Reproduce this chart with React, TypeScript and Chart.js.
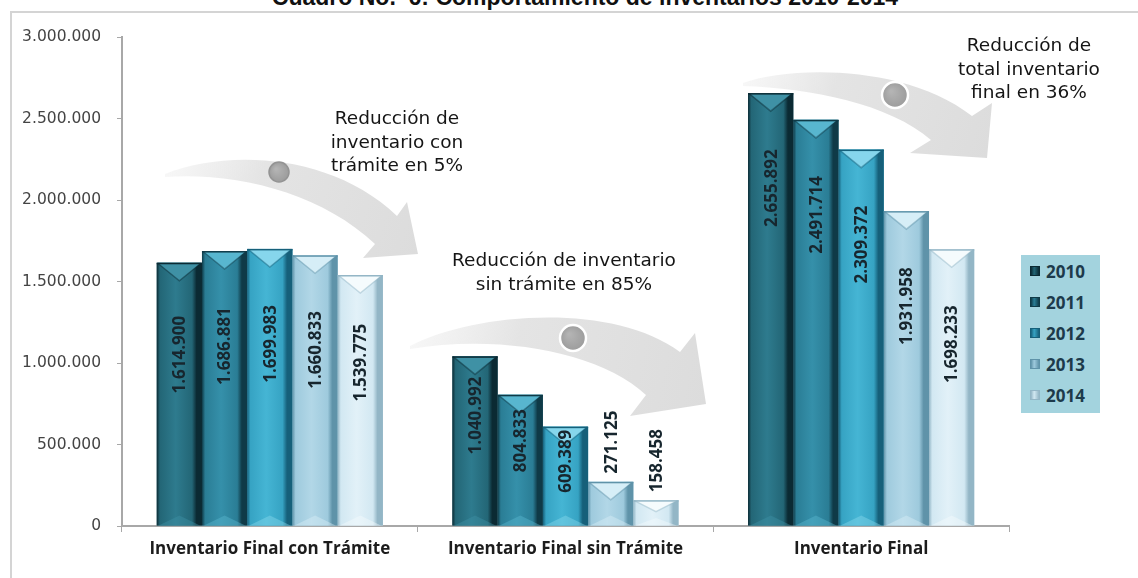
import React, { useEffect, useRef } from 'react';
import { Chart, registerables } from 'chart.js';

Chart.register(...registerables);

// ---------- data ----------
const categories = ['Inventario Final con Trámite', 'Inventario Final sin Trámite', 'Inventario Final'];
const years = ['2010', '2011', '2012', '2013', '2014'];
const values2010 = [1614900, 1040992, 2655892];
const values2011 = [1686881, 804833, 2491714];
const values2012 = [1699983, 609389, 2309372];
const values2013 = [1660833, 271125, 1931958];
const values2014 = [1539775, 158458, 1698233];
const seriesValues = [values2010, values2011, values2012, values2013, values2014];
const yTickValues = [0, 500000, 1000000, 1500000, 2000000, 2500000, 3000000];

const titleText = 'Cuadro No.  6: Comportamiento de inventarios 2010-2014';
const note1Lines = ['Reducción de', 'inventario con', 'trámite en 5%'];
const note2Lines = ['Reducción de inventario', 'sin trámite en 85%'];
const note3Lines = ['Reducción de', 'total inventario', 'final en 36%'];

// ---------- styles ----------
const palette = [
  { edge: '#0b2a33', face: '#236676', mid: '#2e7b8e', bevel: '#3f91a5' },
  { edge: '#0f3a47', face: '#2a7d95', mid: '#3590aa', bevel: '#58b6cf' },
  { edge: '#16607a', face: '#36a3c3', mid: '#45b5d4', bevel: '#86d6ec' },
  { edge: '#5f93a9', face: '#9ecadd', mid: '#b2d7e7', bevel: '#d6eef7' },
  { edge: '#93b6c6', face: '#d2e8f2', mid: '#e2f1f8', bevel: '#f5fbfd' },
];

const LABEL_FONT = 'bold 17px "Open Sans"';

// reference frame for decorative arrows (chart-area relative)
const REF = { left: 122, top: 37, w: 887, h: 489 };
const arrowShapes = [
  {
    tail: [165, 174], uc1: [225, 150], uc2: [330, 152], neckU: [397, 216],
    barb1: [407, 202], tip: [418, 254], barb2: [363, 258], neckL: [375, 244],
    lc1: [320, 192], lc2: [235, 172], tailL: [165, 177],
    circle: [279, 172], r: 10, ring: '#939393', ringW: 1.5,
  },
  {
    tail: [410, 346], uc1: [470, 314], uc2: [610, 300], neckU: [680, 352],
    barb1: [695, 333], tip: [706, 404], barb2: [630, 416], neckL: [646, 395],
    lc1: [600, 352], lc2: [500, 334], tailL: [410, 349],
    circle: [573, 338], r: 13, ring: '#ffffff', ringW: 2.5,
  },
  {
    tail: [743, 83], uc1: [790, 66], uc2: [905, 64], neckU: [972, 116],
    barb1: [992, 103], tip: [987, 158], barb2: [910, 153], neckL: [931, 140],
    lc1: [890, 104], lc2: [810, 88], tailL: [743, 86],
    circle: [895, 95], r: 13, ring: '#ffffff', ringW: 2.5,
  },
];

const fmt = (v: number) => String(Math.round(v)).replace(/\B(?=(\d{3})+(?!\d))/g, '.');

const arrowPlugin = {
  id: 'arrowDecor',
  beforeDatasetsDraw(chart: any) {
    const { ctx, chartArea: ca } = chart;
    const m = (p: number[]) => [
      ca.left + ((p[0] - REF.left) / REF.w) * ca.width,
      ca.top + ((p[1] - REF.top) / REF.h) * ca.height,
    ];
    ctx.save();
    arrowShapes.forEach((a) => {
      const t = m(a.tail), u1 = m(a.uc1), u2 = m(a.uc2), nu = m(a.neckU);
      const b1 = m(a.barb1), tp = m(a.tip), b2 = m(a.barb2), nl = m(a.neckL);
      const l1 = m(a.lc1), l2 = m(a.lc2), tl = m(a.tailL);
      const g = ctx.createLinearGradient(t[0], t[1], tp[0], tp[1]);
      g.addColorStop(0, 'rgba(232,232,232,0.35)');
      g.addColorStop(0.35, '#e4e4e4');
      g.addColorStop(1, '#dcdcdc');
      ctx.beginPath();
      ctx.moveTo(t[0], t[1]);
      ctx.bezierCurveTo(u1[0], u1[1], u2[0], u2[1], nu[0], nu[1]);
      ctx.lineTo(b1[0], b1[1]);
      ctx.lineTo(tp[0], tp[1]);
      ctx.lineTo(b2[0], b2[1]);
      ctx.lineTo(nl[0], nl[1]);
      ctx.bezierCurveTo(l1[0], l1[1], l2[0], l2[1], tl[0], tl[1]);
      ctx.closePath();
      ctx.fillStyle = g;
      ctx.fill();
      const c = m(a.circle);
      const rg = ctx.createRadialGradient(c[0] - a.r * 0.3, c[1] - a.r * 0.3, 1, c[0], c[1], a.r);
      rg.addColorStop(0, '#b4b4b4');
      rg.addColorStop(1, '#9c9c9c');
      ctx.beginPath();
      ctx.arc(c[0], c[1], a.r, 0, Math.PI * 2);
      ctx.fillStyle = rg;
      ctx.fill();
      ctx.lineWidth = a.ringW;
      ctx.strokeStyle = a.ring;
      ctx.stroke();
    });
    ctx.restore();
  },
};

const barDecorPlugin = {
  id: 'barDecor',
  afterDatasetsDraw(chart: any) {
    const { ctx } = chart;
    ctx.save();
    // shading & bevels
    chart.data.datasets.forEach((_ds: any, di: number) => {
      const meta = chart.getDatasetMeta(di);
      const pal = palette[di];
      meta.data.forEach((el: any) => {
        const { x, y, base, width } = el.getProps(['x', 'y', 'base', 'width'], true);
        const left = x - width / 2;
        const right = x + width / 2;
        const top = Math.min(y, base);
        const bottom = Math.max(y, base);
        const h = bottom - top;
        const g = ctx.createLinearGradient(left, 0, right, 0);
        g.addColorStop(0, pal.edge);
        g.addColorStop(0.07, pal.face);
        g.addColorStop(0.42, pal.mid);
        g.addColorStop(0.78, pal.face);
        g.addColorStop(0.88, pal.edge);
        g.addColorStop(1, pal.edge);
        ctx.fillStyle = g;
        ctx.fillRect(left, top, width, h);
        const bh = Math.min(width * 0.4, h * 0.45);
        // top bevel (V)
        ctx.beginPath();
        ctx.moveTo(left + 1, top);
        ctx.lineTo(right - 1, top);
        ctx.lineTo(x, top + bh);
        ctx.closePath();
        ctx.fillStyle = pal.bevel;
        ctx.fill();
        ctx.beginPath();
        ctx.moveTo(left + 1, top + 0.5);
        ctx.lineTo(x, top + bh);
        ctx.lineTo(right - 1, top + 0.5);
        ctx.strokeStyle = pal.edge;
        ctx.globalAlpha = 0.45;
        ctx.lineWidth = 1.5;
        ctx.stroke();
        ctx.globalAlpha = 1;
        ctx.fillStyle = pal.edge;
        ctx.fillRect(left, top, width, 1.5);
        // bottom bevel
        const bb = Math.min(width * 0.22, h * 0.3);
        ctx.beginPath();
        ctx.moveTo(left + 2, bottom);
        ctx.lineTo(x, bottom - bb);
        ctx.lineTo(right - 2, bottom);
        ctx.closePath();
        ctx.fillStyle = pal.bevel;
        ctx.globalAlpha = 0.45;
        ctx.fill();
        ctx.globalAlpha = 1;
      });
    });
    // value labels
    ctx.font = LABEL_FONT;
    ctx.fillStyle = '#17262e';
    ctx.textAlign = 'center';
    ctx.textBaseline = 'middle';
    chart.data.datasets.forEach((ds: any, di: number) => {
      const meta = chart.getDatasetMeta(di);
      meta.data.forEach((el: any, i: number) => {
        const { x, y, base } = el.getProps(['x', 'y', 'base'], true);
        const top = Math.min(y, base);
        const h = Math.abs(base - y);
        const txt = fmt(ds.data[i]);
        const L = ctx.measureText(txt).width;
        let cy: number;
        if (h >= L + 25) {
          const off = Math.min(95, Math.max(h * 0.35, L / 2 + 3));
          cy = top + off;
        } else {
          cy = top - 8 - L / 2;
        }
        ctx.save();
        ctx.translate(x + 1, cy);
        ctx.rotate(-Math.PI / 2);
        ctx.fillText(txt, 0, 0);
        ctx.restore();
      });
    });
    ctx.restore();
  },
};

function Note({ lines, cx, cy, lh }: { lines: string[]; cx: number; cy: number; lh: number }) {
  return (
    <div
      style={{
        position: 'absolute',
        left: cx - 160,
        width: 320,
        top: cy - lh / 2,
        textAlign: 'center',
        fontFamily: '"DejaVu Sans", sans-serif',
        fontSize: 18.5,
        lineHeight: `${lh}px`,
        color: '#151515',
        whiteSpace: 'nowrap',
      }}
    >
      {lines.map((l, i) => (
        <div key={i}>{l}</div>
      ))}
    </div>
  );
}

export default function App() {
  const ref = useRef<HTMLCanvasElement | null>(null);

  useEffect(() => {
    if (!ref.current) return;
    const chart = new Chart(ref.current, {
      type: 'bar',
      data: {
        labels: categories,
        datasets: years.map((yr, i) => ({
          label: yr,
          data: seriesValues[i],
          backgroundColor: palette[i].face,
          borderWidth: 0,
          categoryPercentage: 0.765,
          barPercentage: 1,
        })),
      },
      options: {
        responsive: false,
        animation: false,
        devicePixelRatio: 1,
        layout: { padding: { left: 0, top: 37, right: 129, bottom: 0 } },
        plugins: {
          legend: { display: false },
          tooltip: { enabled: false },
          title: { display: false },
        },
        scales: {
          x: {
            grid: { drawOnChartArea: false, drawTicks: true, tickLength: 6, color: '#a8a8a8', offset: true },
            border: { color: '#a8a8a8', width: 2 },
            ticks: {
              font: { family: '"Open Sans"', weight: 'bold', size: 17 },
              color: '#1c1c1c',
              padding: 7,
              maxRotation: 0,
              autoSkip: false,
            },
            afterFit: (s: any) => {
              s.height = 52;
            },
          },
          y: {
            min: 0,
            max: 3000000,
            afterBuildTicks: (s: any) => {
              s.ticks = yTickValues.map((v) => ({ value: v }));
            },
            grid: { drawOnChartArea: false, drawTicks: true, tickLength: 5, color: '#a8a8a8' },
            border: { color: '#a8a8a8', width: 2 },
            ticks: {
              callback: (v: any) => fmt(Number(v)),
              font: { family: '"DejaVu Sans"', size: 15.5 },
              color: '#444444',
              padding: 16,
            },
            afterFit: (s: any) => {
              s.width = 122;
            },
          },
        },
      } as any,
      plugins: [arrowPlugin, barDecorPlugin],
    });
    return () => chart.destroy();
  }, []);

  return (
    <div
      style={{
        position: 'absolute',
        left: 0,
        top: 0,
        width: 1138,
        height: 578,
        overflow: 'hidden',
        background: '#ffffff',
      }}
    >
      <div
        style={{
          position: 'absolute',
          left: 10,
          top: 11,
          width: 1128,
          height: 567,
          borderLeft: '2px solid #d4d4d4',
          borderTop: '2px solid #d4d4d4',
          boxSizing: 'border-box',
        }}
      />
      <div
        style={{
          position: 'absolute',
          left: 185,
          width: 800,
          top: -13,
          textAlign: 'center',
          fontFamily: '"Liberation Sans", Arial, sans-serif',
          fontWeight: 'bold',
          fontSize: 23,
          lineHeight: '20px',
          whiteSpace: 'pre',
          color: '#111',
        }}
      >
        {titleText}
      </div>
      <canvas ref={ref} width={1138} height={578} style={{ position: 'absolute', left: 0, top: 0 }} />
      <Note lines={note1Lines} cx={397} cy={118} lh={23.5} />
      <Note lines={note2Lines} cx={564} cy={260} lh={23.5} />
      <Note lines={note3Lines} cx={1029} cy={45} lh={23.5} />
      <div
        style={{
          position: 'absolute',
          left: 1021,
          top: 255,
          width: 79,
          height: 158,
          background: '#a3d3de',
        }}
      >
        {years.map((yr, i) => (
          <div
            key={yr}
            style={{
              position: 'absolute',
              left: 9,
              top: 16 + i * 31 - 11,
              height: 22,
              display: 'flex',
              alignItems: 'center',
              fontFamily: '"Open Sans", sans-serif',
              fontWeight: 'bold',
              fontSize: 17,
              color: '#1d3a4b',
            }}
          >
            <span
              style={{
                display: 'inline-block',
                width: 10,
                height: 10,
                marginRight: 6,
                background: `linear-gradient(90deg, ${palette[i].edge}, ${palette[i].face} 40%, ${palette[i].edge})`,
                border: `1px solid ${palette[i].edge}`,
                boxSizing: 'border-box',
              }}
            />
            {yr}
          </div>
        ))}
      </div>
    </div>
  );
}
